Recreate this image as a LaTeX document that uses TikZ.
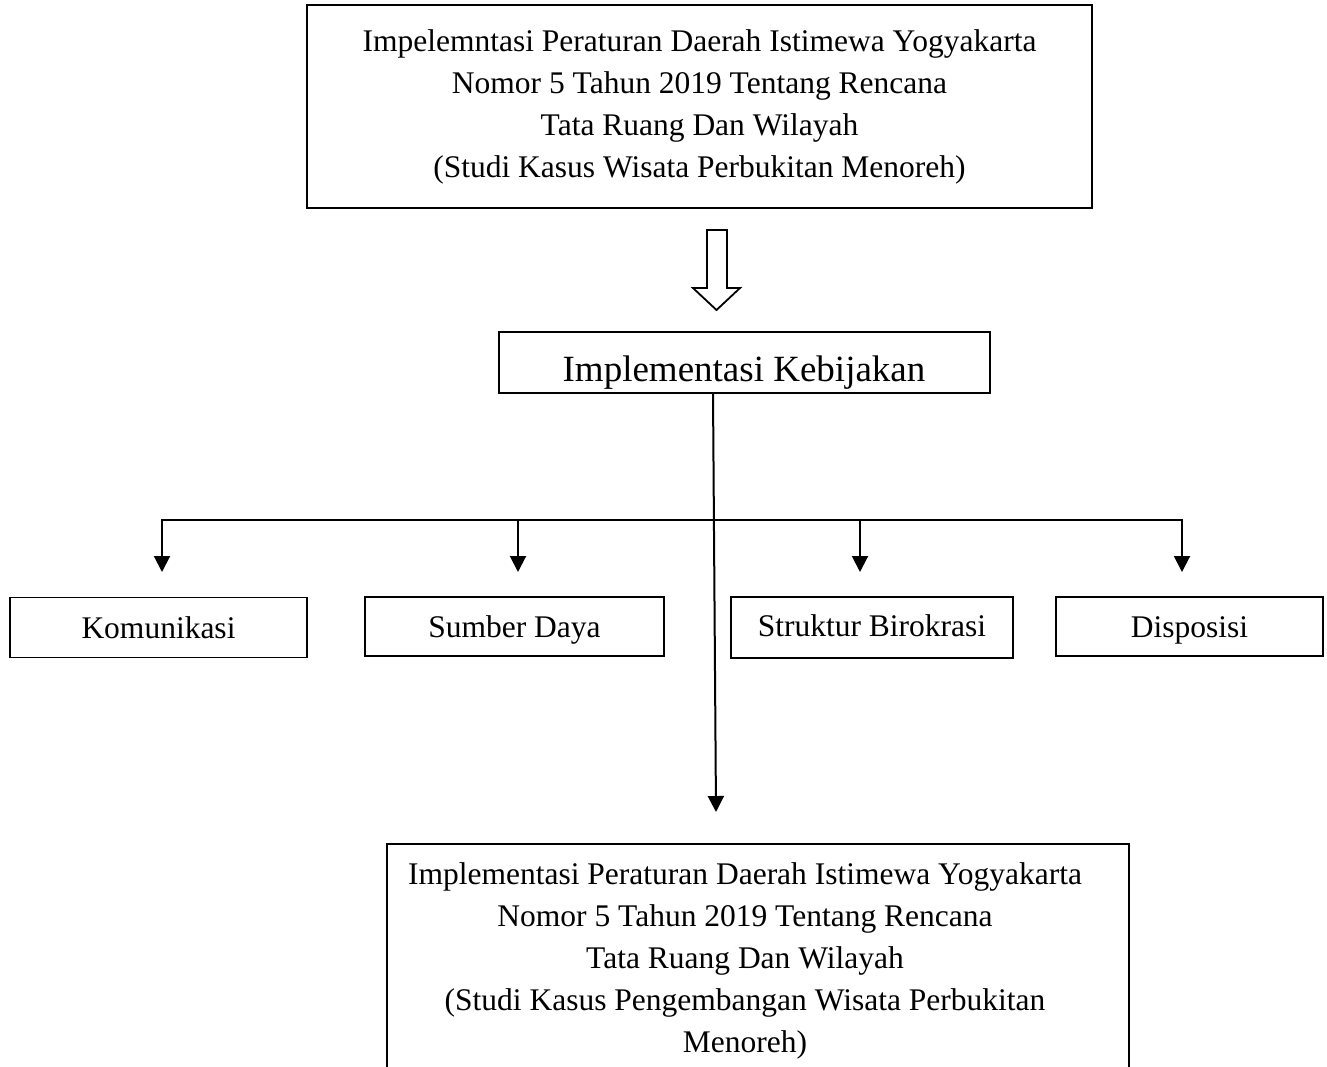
\documentclass[tikz,border=0pt]{standalone}
\usepackage{fontspec}
\setmainfont{Liberation Serif}
\usetikzlibrary{arrows.meta}
\begin{document}
\begin{tikzpicture}[x=1pt,y=-1pt,
  box/.style={draw=black,line width=1.8pt,inner sep=0pt,align=center},
  bigtxt/.style={font=\fontsize{31.5}{42}\selectfont},
  midtxt/.style={font=\fontsize{37}{44}\selectfont},
  rowbox/.style={box,minimum height=60pt,text height=21pt,text depth=0pt,font=\fontsize{31.5}{40}\selectfont},
  conn/.style={line width=2pt},
  arr/.style={conn,-{Triangle[length=16pt,width=16pt]}}]
\useasboundingbox (0,0) rectangle (1327,1066);
\clip (0,0) rectangle (1327,1066);
% top box
\node[box,bigtxt,minimum width=785pt,minimum height=203pt] (top) at (699.5,106.5)
  {Impelemntasi Peraturan Daerah Istimewa Yogyakarta\\Nomor 5 Tahun 2019 Tentang Rencana\\Tata Ruang Dan Wilayah\\(Studi Kasus Wisata Perbukitan Menoreh)};
% hollow arrow
\draw[line width=1.8pt,line join=miter] (707,230) -- (727,230) -- (727,288) -- (740,288) -- (716.5,310) -- (693,288) -- (707,288) -- cycle;
% middle box
\node[box,minimum width=491pt,minimum height=61pt] (mid) at (744.5,362.5) {};
\node[midtxt,anchor=base] (midtext) at (744,381) {Implementasi Kebijakan};
% row boxes
\node[rowbox,minimum width=297pt] (kom) at (158.5,627.5) {Komunikasi};
\node[rowbox,minimum width=299pt,minimum height=59pt] (sum) at (514.5,626.5) {Sumber Daya};
\node[rowbox,minimum width=282pt,minimum height=61pt,text height=17pt] (str) at (872,627.5) {Struktur Birokrasi};
\node[rowbox,minimum width=267pt,minimum height=59pt] (dis) at (1189.5,626.5) {Disposisi};
% bottom box (cut by page edge)
\node[box,minimum width=742pt,minimum height=300pt,anchor=north] (bot) at (758,843) {};
\node[bigtxt,align=center,anchor=north] (bottext) at (745,859)
  {Implementasi Peraturan Daerah Istimewa Yogyakarta\\Nomor 5 Tahun 2019 Tentang Rencana\\Tata Ruang Dan Wilayah\\(Studi Kasus Pengembangan Wisata Perbukitan\\Menoreh)};
% connectors
\coordinate (vtop) at (713,393);
\coordinate (tip) at (716,812);
\draw[arr] (vtop) -- (tip);
\coordinate (a1) at (162,572);
\coordinate (a2) at (518,572);
\coordinate (a3) at (860,572);
\coordinate (a4) at (1182,572);
\coordinate (hy) at (0,520);
\draw[conn] ([xshift=-1pt]a1 |- hy) -- ([xshift=1pt]a4 |- hy);
\foreach \a in {a1,a2,a3,a4} \draw[arr] (\a |- hy) -- (\a);
\end{tikzpicture}
\end{document}
